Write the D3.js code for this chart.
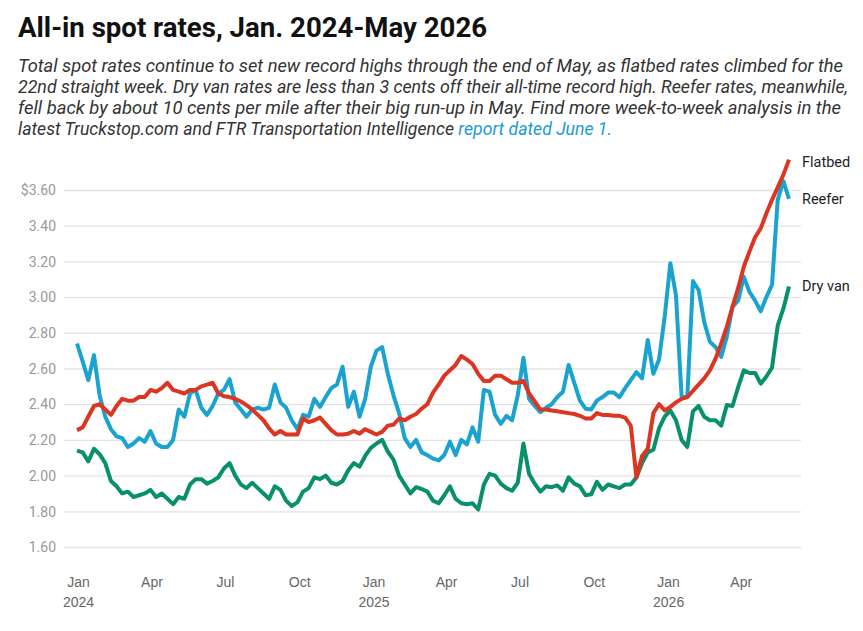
<!DOCTYPE html>
<html>
<head>
<meta charset="utf-8">
<script src="https://cdn.jsdelivr.net/npm/d3@7"></script>
<style>
  html, body { margin: 0; padding: 0; background: #fff; }
  svg { display: block; font-family: Roboto, "Noto Sans", sans-serif; }
</style>
</head>
<body>
<div id="chart"></div>
<script>
// weekly all-in spot rates, $/mile, first week = Jan 1 2024
const firstWeek = new Date(Date.UTC(2024, 0, 1));

const flatbed = [
  2.255, 2.27, 2.33, 2.39, 2.40, 2.37, 2.34, 2.39, 2.43, 2.42, 2.42, 2.44, 2.44, 2.48, 2.47, 2.49, 2.52, 2.48, 2.47, 2.46, 2.48, 2.48, 2.50, 2.51, 2.52,
  2.46, 2.445, 2.44, 2.43, 2.415, 2.395, 2.37, 2.34, 2.31, 2.265, 2.23, 2.25, 2.23, 2.23, 2.23, 2.32, 2.30, 2.31, 2.325, 2.29, 2.255, 2.23, 2.23, 2.235, 2.25, 2.235,
  2.26, 2.245, 2.23, 2.245, 2.28, 2.285, 2.32, 2.31, 2.33, 2.345, 2.375, 2.40, 2.465, 2.51, 2.56, 2.59, 2.62, 2.67, 2.65, 2.625, 2.57, 2.53, 2.53, 2.56, 2.56, 2.54,
  2.52, 2.52, 2.53, 2.46, 2.415, 2.37, 2.37, 2.365, 2.36, 2.355, 2.35, 2.345, 2.335, 2.32, 2.32, 2.35, 2.34, 2.34, 2.335, 2.335, 2.325, 2.28, 1.99, 2.11, 2.15,
  2.35, 2.40, 2.365, 2.385, 2.41, 2.43, 2.44, 2.475, 2.51, 2.545, 2.59, 2.655, 2.74, 2.835, 2.945, 3.05, 3.17, 3.255, 3.335, 3.385, 3.47, 3.545, 3.615, 3.685, 3.77
];

const reefer = [
  2.74, 2.64, 2.535, 2.675, 2.45, 2.33, 2.26, 2.22, 2.21, 2.16, 2.18, 2.21, 2.19, 2.25, 2.18, 2.16, 2.16, 2.20, 2.37, 2.33, 2.46, 2.48, 2.38, 2.34, 2.39,
  2.46, 2.48, 2.54, 2.41, 2.37, 2.33, 2.37, 2.38, 2.37, 2.38, 2.51, 2.41, 2.38, 2.31, 2.26, 2.34, 2.33, 2.43, 2.385, 2.44, 2.49, 2.51, 2.61, 2.385, 2.47, 2.33,
  2.43, 2.61, 2.70, 2.72, 2.57, 2.45, 2.35, 2.21, 2.16, 2.20, 2.13, 2.115, 2.095, 2.085, 2.115, 2.19, 2.115, 2.20, 2.175, 2.27, 2.19, 2.48, 2.47, 2.34, 2.29, 2.335,
  2.31, 2.45, 2.66, 2.43, 2.39, 2.355, 2.38, 2.40, 2.44, 2.47, 2.62, 2.52, 2.42, 2.375, 2.37, 2.42, 2.44, 2.465, 2.465, 2.44, 2.49, 2.535, 2.58, 2.545, 2.76,
  2.57, 2.65, 2.89, 3.19, 3.01, 2.44, 2.44, 3.09, 3.04, 2.86, 2.75, 2.72, 2.665, 2.78, 2.945, 2.98, 3.115, 3.03, 2.98, 2.92, 3.00, 3.07, 3.545, 3.65, 3.55
];

const dryVan = [
  2.14, 2.13, 2.08, 2.15, 2.12, 2.07, 1.97, 1.94, 1.90, 1.91, 1.88, 1.89, 1.90, 1.92, 1.88, 1.90, 1.87, 1.84, 1.88, 1.87, 1.95, 1.98, 1.98, 1.955, 1.97,
  1.99, 2.04, 2.07, 2.00, 1.95, 1.93, 1.96, 1.93, 1.90, 1.87, 1.94, 1.92, 1.86, 1.83, 1.85, 1.91, 1.93, 1.99, 1.98, 2.00, 1.96, 1.95, 1.97, 2.03, 2.07, 2.05,
  2.11, 2.155, 2.18, 2.20, 2.135, 2.09, 2.00, 1.95, 1.90, 1.935, 1.925, 1.91, 1.86, 1.845, 1.89, 1.94, 1.87, 1.845, 1.84, 1.845, 1.81, 1.95, 2.01, 2.00, 1.955, 1.93,
  1.915, 1.96, 2.18, 2.01, 1.955, 1.91, 1.94, 1.935, 1.945, 1.915, 1.99, 1.955, 1.94, 1.89, 1.895, 1.965, 1.92, 1.95, 1.94, 1.93, 1.95, 1.95, 1.99, 2.07, 2.13,
  2.145, 2.265, 2.33, 2.365, 2.31, 2.20, 2.16, 2.36, 2.39, 2.33, 2.31, 2.31, 2.28, 2.395, 2.39, 2.495, 2.59, 2.575, 2.575, 2.515, 2.555, 2.605, 2.84, 2.935, 3.06
];

const yTicks = [1.6, 1.8, 2.0, 2.2, 2.4, 2.6, 2.8, 3.0, 3.2, 3.4, 3.6];
const xTickMonths = ["2024-01-01", "2024-04-01", "2024-07-01", "2024-10-01", "2025-01-01", "2025-04-01", "2025-07-01", "2025-10-01", "2026-01-01", "2026-04-01"];
const xTickLabels = [["Jan", "2024"], ["Apr"], ["Jul"], ["Oct"], ["Jan", "2025"], ["Apr"], ["Jul"], ["Oct"], ["Jan", "2026"], ["Apr"]];

const series = [
  { name: "Dry van", values: dryVan, color: "#08906d" },
  { name: "Reefer", values: reefer, color: "#1ba3d0" },
  { name: "Flatbed", values: flatbed, color: "#dc3521" }
];

const W = 863, H = 631;
const svg = d3.select("#chart").append("svg").attr("width", W).attr("height", H);

// title + intro text
svg.append("text")
  .attr("x", 18).attr("y", 37)
  .attr("font-size", 27.6).attr("font-weight", 700).attr("fill", "#111")
  .text("All-in spot rates, Jan. 2024-May 2026");

const introLines = [
  "Total spot rates continue to set new record highs through the end of May, as flatbed rates climbed for the",
  "22nd straight week. Dry van rates are less than 3 cents off their all-time record high. Reefer rates, meanwhile,",
  "fell back by about 10 cents per mile after their big run-up in May. Find more week-to-week analysis in the",
  "latest Truckstop.com and FTR Transportation Intelligence "
];
// right edge of each intro line in the reference
const introEnds = [843, 848, 841, 612];
const intro = svg.append("g").attr("font-size", 17.4).attr("font-style", "italic").attr("fill", "#333");
introLines.forEach((line, i) => {
  const t = intro.append("text").attr("x", 18).attr("y", 72 + i * 21).text(line);
  if (i === introLines.length - 1) {
    t.append("tspan").attr("fill", "#1b9bd6").text("report dated June 1.");
  }
  t.attr("textLength", introEnds[i] - 18).attr("lengthAdjust", "spacingAndGlyphs");
});

// scales
const x = d3.scaleUtc()
  .domain([firstWeek, new Date(Date.UTC(2026, 5, 1))])
  .range([77, 789]);
const y = d3.scaleLinear().domain([1.6, 3.6]).range([547, 190]);

const weeks = flatbed.map((_, i) => d3.utcWeek.offset(firstWeek, i));

// y grid + labels
const yAxis = svg.append("g")
  .call(d3.axisLeft(y).tickValues(yTicks).tickSize(0).tickPadding(0)
    .tickFormat((d, i) => (i === yTicks.length - 1 ? "$" : "") + d3.format(".2f")(d)));
yAxis.select(".domain").remove();
yAxis.selectAll("text")
  .attr("x", 56).attr("dy", "0.34em")
  .attr("font-size", 14).attr("font-family", "Roboto, sans-serif").attr("fill", "#999");
yAxis.selectAll(".tick").append("line")
  .attr("x1", 64).attr("x2", 801)
  .attr("stroke", "#e3e3e3").attr("stroke-width", 1.3);

// x labels
const xAxis = svg.append("g").attr("transform", "translate(0,568)")
  .call(d3.axisBottom(x).tickValues(xTickMonths.map(d => new Date(d + "T00:00:00Z"))).tickSize(0).tickFormat(""));
xAxis.select(".domain").remove();
xAxis.selectAll(".tick").each(function (d, i) {
  const t = d3.select(this).append("text")
    .attr("text-anchor", "middle").attr("font-size", 14).attr("fill", "#666");
  xTickLabels[i].forEach((s, k) => {
    t.append("tspan").attr("x", 1).attr("y", 19 + k * 20).text(s);
  });
});

// lines
const line = d3.line()
  .x((d, i) => x(weeks[i]))
  .y(d => y(d));

svg.append("g").selectAll("path")
  .data(series)
  .join("path")
  .attr("d", d => line(d.values))
  .attr("fill", "none")
  .attr("stroke", d => d.color)
  .attr("stroke-width", 4)
  .attr("stroke-linejoin", "round");

// end labels
const endLabelY = { "Flatbed": 3.76, "Reefer": 3.55, "Dry van": 3.06 };
svg.append("g").selectAll("text")
  .data(series)
  .join("text")
  .attr("x", 802)
  .attr("y", d => y(endLabelY[d.name]))
  .attr("dy", "0.35em")
  .attr("font-size", 14.5).attr("fill", "#222")
  .text(d => d.name);
</script>
</body>
</html>
